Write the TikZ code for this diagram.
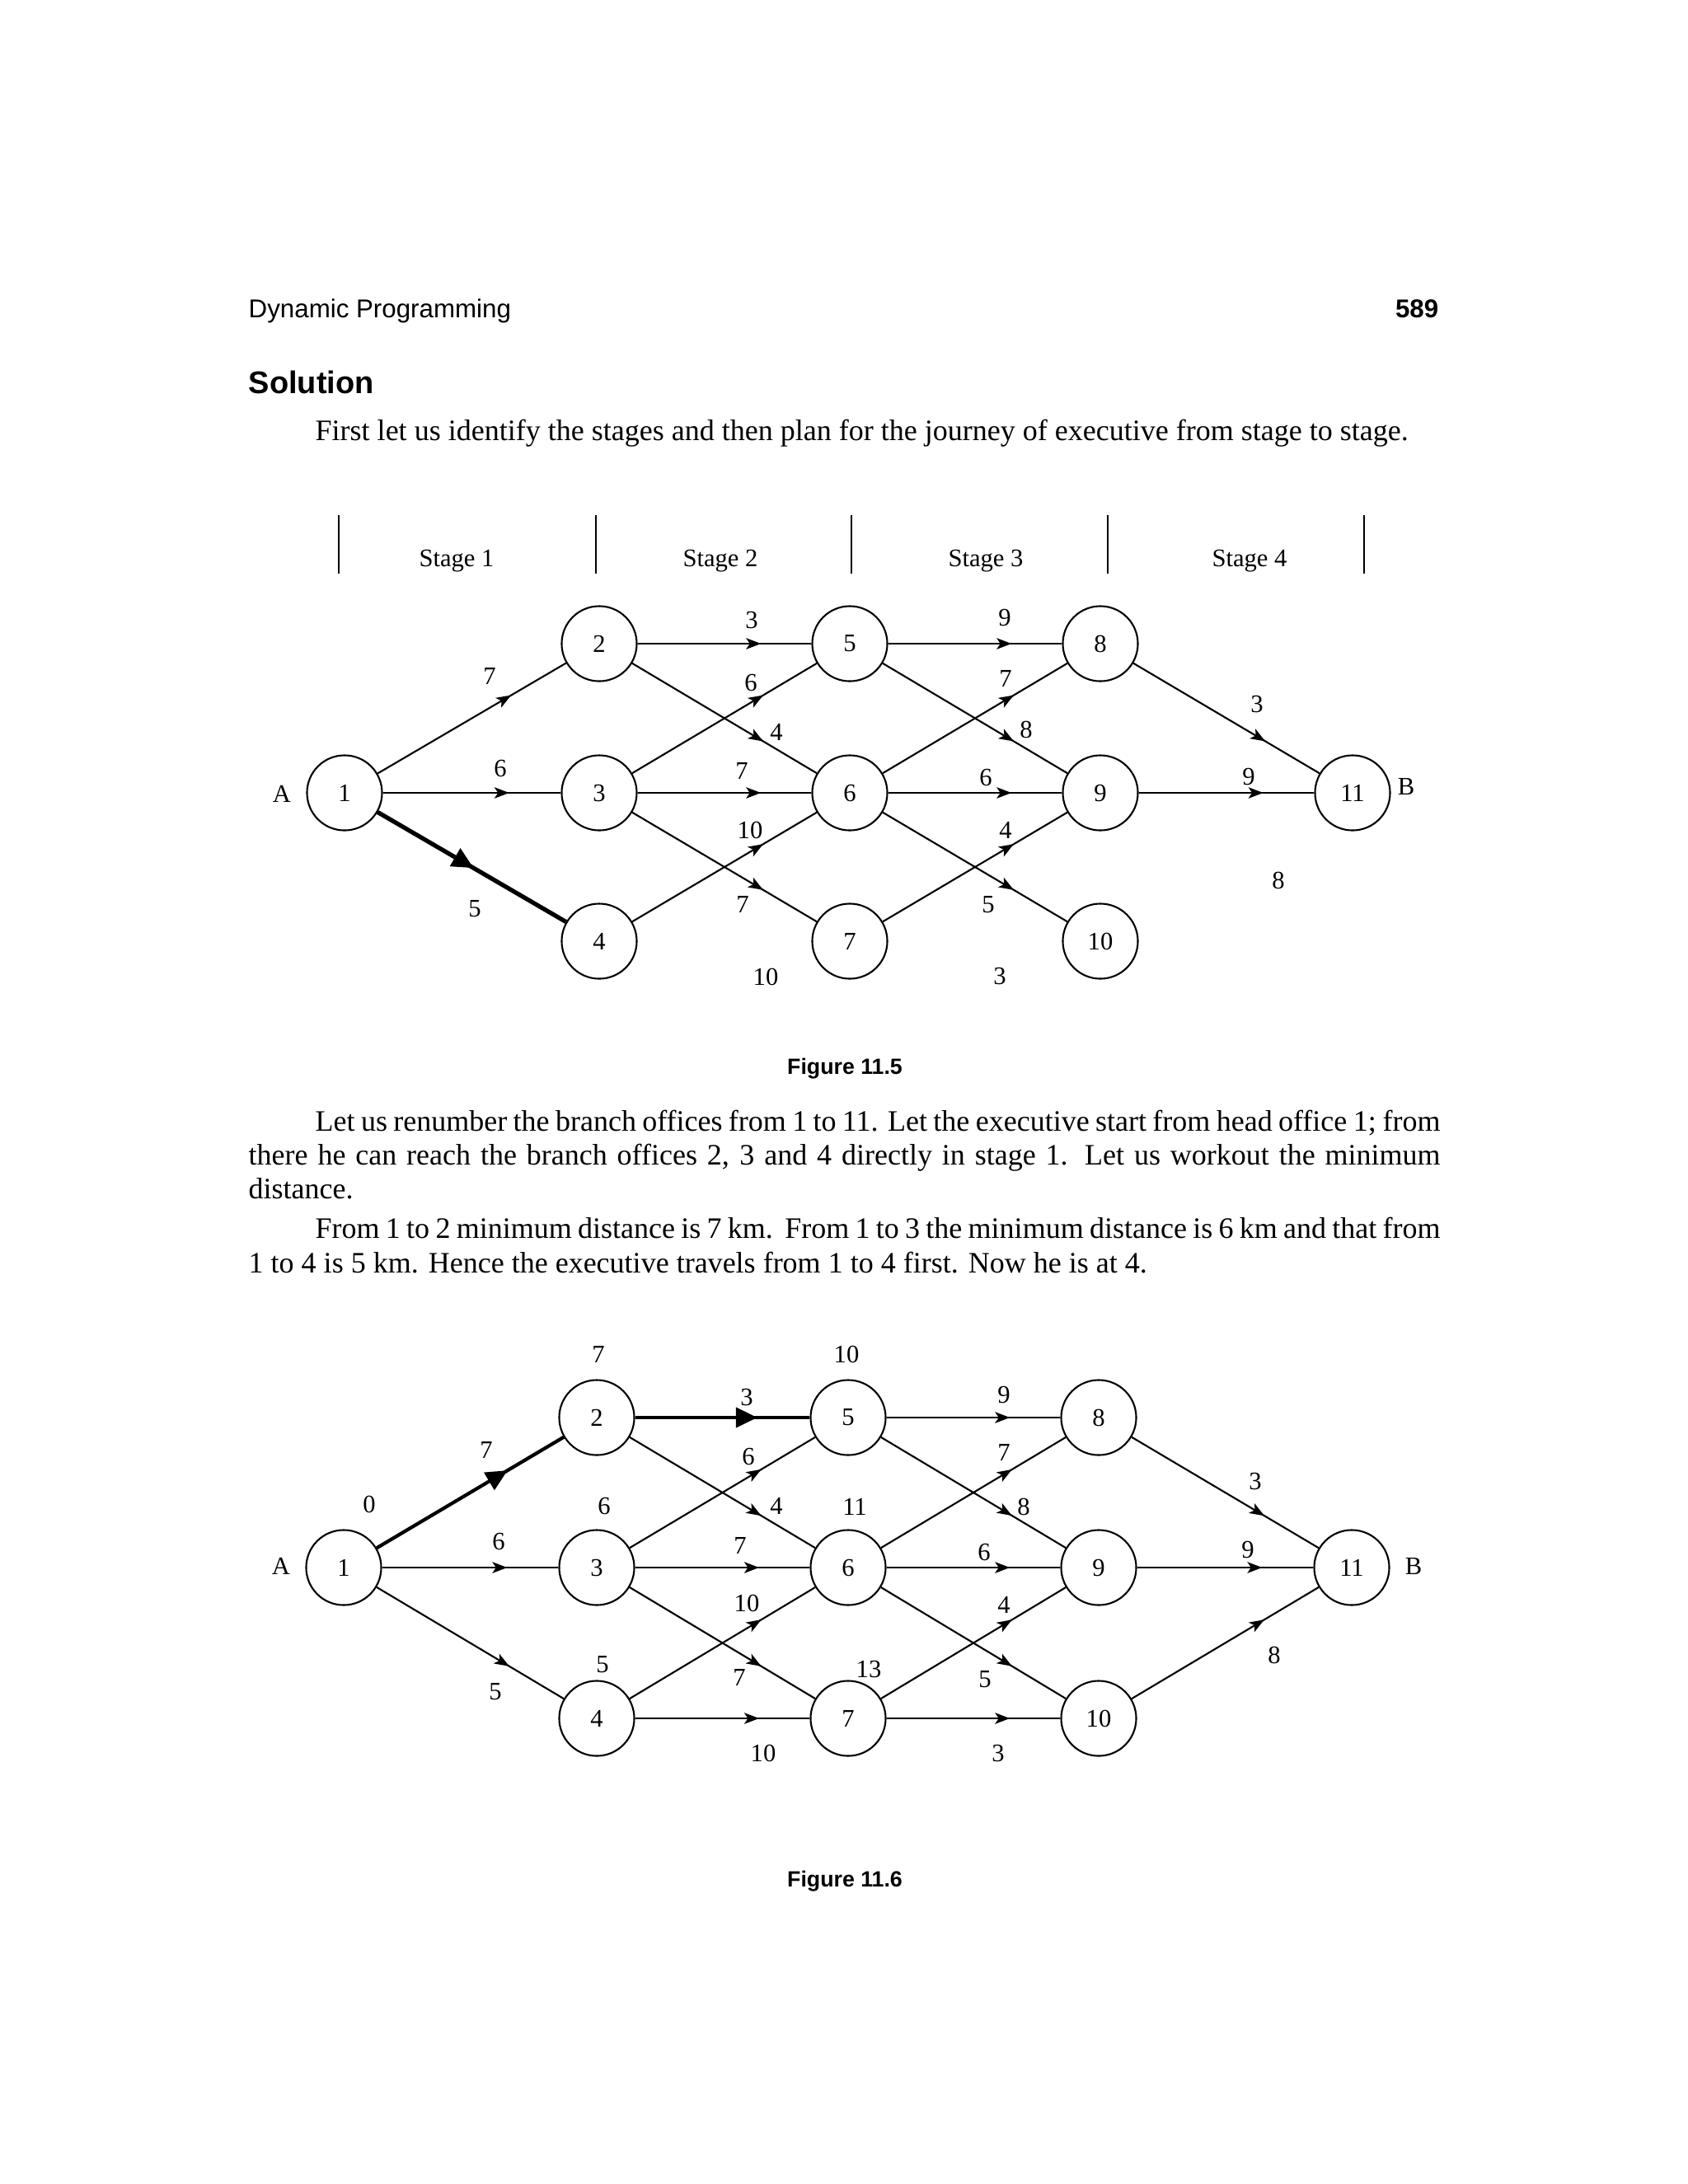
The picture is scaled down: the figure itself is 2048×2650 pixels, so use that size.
\documentclass[tikz,border=0pt]{standalone}
\usepackage{fontspec}
\setmainfont{Liberation Serif}
\setsansfont{Liberation Sans}
\usetikzlibrary{arrows.meta,decorations.markings}

\newcommand{\figfont}{\fontsize{8.7}{10}\selectfont}
\newcommand{\bodyfont}{\fontsize{10.24}{11.95}\selectfont}
\newcommand{\headfont}{\fontsize{8.9}{10}\selectfont\sffamily}
\newcommand{\capfont}{\fontsize{7.6}{9}\selectfont\sffamily\bfseries}

\tikzset{
  office/.style={circle, draw, line width=0.6pt, minimum size=0.91cm, inner sep=0pt, font=\figfont},
  wt/.style={inner sep=0pt, font=\figfont},
  txt/.style={inner sep=0pt, anchor=base west, font=\bodyfont},
  route/.style={line width=0.6pt, postaction={decorate},
    decoration={markings, mark=at position 0.71 with {\arrow{Stealth[length=1.8mm,width=1.35mm,inset=0.45mm]}}}},
  chosen/.style 2 args={line width=#1, postaction={decorate},
    decoration={markings, mark=at position #2 with {\arrow{Triangle[length=2.6mm,width=2.4mm]}}}},
}

\begin{document}
\begin{tikzpicture}[x=0.01cm, y=-0.01cm]
\useasboundingbox (0,0) rectangle (2048,2650);

% running head and section title
\node[anchor=base west, inner sep=0pt, font=\headfont] (runhead) at (301,385) {Dynamic Programming};
\node[anchor=base east, inner sep=0pt, font=\headfont\bfseries] (pageno) at (1746,385) {589};
\node[anchor=base west, inner sep=0pt, font=\fontsize{10.8}{12}\selectfont\sffamily\bfseries] (solution) at (301,477) {Solution};
\node[txt] (intro) at (382,534) {First let us identify the stages and then plan for the journey of executive from stage to stage.};

% stage marks
\draw[line width=0.6pt] (411,625) -- (411,696);
\draw[line width=0.6pt] (723,625) -- (723,696);
\draw[line width=0.6pt] (1033,625) -- (1033,696);
\draw[line width=0.6pt] (1344,625) -- (1344,696);
\draw[line width=0.6pt] (1655,625) -- (1655,696);
\node[wt, anchor=base] (st1) at (554,687) {Stage 1};
\node[wt, anchor=base] (st2) at (874,687) {Stage 2};
\node[wt, anchor=base] (st3) at (1196,687) {Stage 3};
\node[wt, anchor=base] (st4) at (1516,687) {Stage 4};

% Figure 11.5: offices
\node[office] (a1) at (418,962) {1};
\node[office] (a2) at (727,781) {2};
\node[office] (a3) at (727,962) {3};
\node[office] (a4) at (727,1142) {4};
\node[office] (a5) at (1031,781) {5};
\node[office] (a6) at (1031,962) {6};
\node[office] (a7) at (1031,1142) {7};
\node[office] (a8) at (1335,781) {8};
\node[office] (a9) at (1335,962) {9};
\node[office] (a10) at (1335,1142) {10};
\node[office] (a11) at (1641,962) {11};
\node[wt] (aA) at (342,963) {A};
\node[wt] (aB) at (1706,955) {B};

% Figure 11.5: roads
\draw[route] (a1) -- (a2);
\draw[route] (a1) -- (a3);
\draw[chosen={1.5pt}{0.51}] (a1) -- (a4);
\draw[route] (a2) -- (a5);
\draw[route] (a2) -- (a6);
\draw[route] (a3) -- (a5);
\draw[route] (a3) -- (a6);
\draw[route] (a3) -- (a7);
\draw[route] (a4) -- (a6);
\draw[route] (a5) -- (a8);
\draw[route] (a5) -- (a9);
\draw[route] (a6) -- (a8);
\draw[route] (a6) -- (a9);
\draw[route] (a6) -- (a10);
\draw[route] (a7) -- (a9);
\draw[route] (a8) -- (a11);
\draw[route] (a9) -- (a11);

% Figure 11.5: distances
\node[wt] (aw12) at (594,820) {7};
\node[wt] (aw13) at (607,932) {6};
\node[wt] (aw14) at (576,1103) {5};
\node[wt] (aw25) at (912,753) {3};
\node[wt] (aw26) at (942,888) {4};
\node[wt] (aw35) at (911,828) {6};
\node[wt] (aw36) at (900,935) {7};
\node[wt] (aw37) at (901,1097) {7};
\node[wt] (aw46) at (910,1007) {10};
\node[wt] (aw47) at (929,1185) {10};
\node[wt] (aw58) at (1219,750) {9};
\node[wt] (aw59) at (1245,885) {8};
\node[wt] (aw68) at (1220,823) {7};
\node[wt] (aw69) at (1196,943) {6};
\node[wt] (aw610) at (1199,1098) {5};
\node[wt] (aw79) at (1220,1007) {4};
\node[wt] (aw710) at (1213,1184) {3};
\node[wt] (aw811) at (1525,855) {3};
\node[wt] (aw911) at (1515,942) {9};
\node[wt] (aw1011) at (1551,1068) {8};

\node[anchor=base, inner sep=0pt, font=\capfont] (cap5) at (1025,1303) {Figure 11.5};

% text between the figures
\node[txt] (p1a) at (382,1372) {\makebox[13.64cm][s]{Let us renumber the branch offices from 1 to 11. Let the executive start from head office 1; from}};
\node[txt] (p1b) at (301,1413) {\makebox[14.45cm][s]{there he can reach the branch offices 2, 3 and 4 directly in stage 1. Let us workout the minimum}};
\node[txt] (p1c) at (301,1454) {distance.};
\node[txt] (p2a) at (382,1502) {\makebox[13.64cm][s]{From 1 to 2 minimum distance is 7 km.\ \ From 1 to 3 the minimum distance is 6 km and that from}};
\node[txt] (p2b) at (301,1544) {1 to 4 is 5 km. Hence the executive travels from 1 to 4 first. Now he is at 4.};

% Figure 11.6: offices
\node[office] (b1) at (417,1902) {1};
\node[office] (b2) at (724,1720) {2};
\node[office] (b3) at (724,1902) {3};
\node[office] (b4) at (724,2085) {4};
\node[office] (b5) at (1029,1720) {5};
\node[office] (b6) at (1029,1902) {6};
\node[office] (b7) at (1029,2085) {7};
\node[office] (b8) at (1333,1720) {8};
\node[office] (b9) at (1333,1902) {9};
\node[office] (b10) at (1333,2085) {10};
\node[office] (b11) at (1640,1902) {11};
\node[wt] (bA) at (341,1900) {A};
\node[wt] (bB) at (1715,1900) {B};

% Figure 11.6: roads
\draw[chosen={1.2pt}{0.7}] (b1) -- (b2);
\draw[route] (b1) -- (b3);
\draw[route] (b1) -- (b4);
\draw[chosen={1.2pt}{0.7}] (b2) -- (b5);
\draw[route] (b2) -- (b6);
\draw[route] (b3) -- (b5);
\draw[route] (b3) -- (b6);
\draw[route] (b3) -- (b7);
\draw[route] (b4) -- (b6);
\draw[route] (b4) -- (b7);
\draw[route] (b5) -- (b8);
\draw[route] (b5) -- (b9);
\draw[route] (b6) -- (b8);
\draw[route] (b6) -- (b9);
\draw[route] (b6) -- (b10);
\draw[route] (b7) -- (b9);
\draw[route] (b7) -- (b10);
\draw[route] (b8) -- (b11);
\draw[route] (b9) -- (b11);
\draw[route] (b10) -- (b11);

% Figure 11.6: distances
\node[wt] (bw12) at (590,1759) {7};
\node[wt] (bw13) at (605,1870) {6};
\node[wt] (bw14) at (601,2053) {5};
\node[wt] (bw25) at (906,1695) {3};
\node[wt] (bw26) at (942,1827) {4};
\node[wt] (bw35) at (908,1767) {6};
\node[wt] (bw36) at (898,1875) {7};
\node[wt] (bw37) at (897,2035) {7};
\node[wt] (bw46) at (906,1945) {10};
\node[wt] (bw47) at (926,2127) {10};
\node[wt] (bw58) at (1218,1692) {9};
\node[wt] (bw59) at (1242,1828) {8};
\node[wt] (bw68) at (1218,1762) {7};
\node[wt] (bw69) at (1194,1883) {6};
\node[wt] (bw610) at (1195,2038) {5};
\node[wt] (bw79) at (1218,1947) {4};
\node[wt] (bw710) at (1211,2127) {3};
\node[wt] (bw811) at (1523,1797) {3};
\node[wt] (bw911) at (1514,1880) {9};
\node[wt] (bw1011) at (1546,2008) {8};

% Figure 11.6: distances reached so far
\node[wt] (bd1) at (448,1825) {0};
\node[wt] (bd2) at (726,1643) {7};
\node[wt] (bd3) at (733,1827) {6};
\node[wt] (bd4) at (731,2020) {5};
\node[wt] (bd5) at (1027,1643) {10};
\node[wt] (bd6) at (1037,1828) {11};
\node[wt] (bd7) at (1054,2025) {13};

\node[anchor=base, inner sep=0pt, font=\capfont] (cap6) at (1025,2289) {Figure 11.6};
\end{tikzpicture}
\end{document}
